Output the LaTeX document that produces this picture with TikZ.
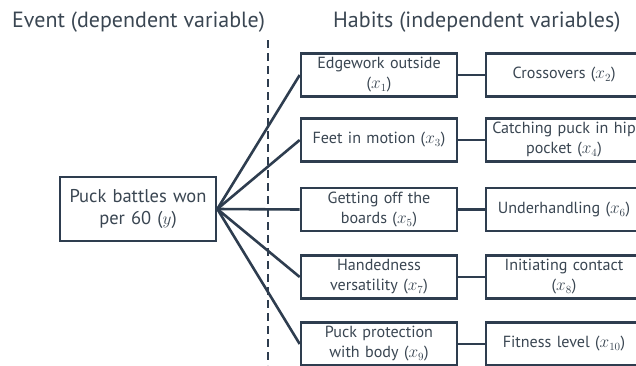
\documentclass[tikz,border=0pt]{standalone}
\usepackage{fontspec}
\setmainfont{PT Sans}
\definecolor{edge}{HTML}{2E3D4F}
\definecolor{txt}{HTML}{3A4652}
\begin{document}
\begin{tikzpicture}[x=1pt,y=-1pt,
  box/.style={draw=edge,line width=2.6pt,fill=white,minimum height=43pt,text width=152pt,align=center,inner sep=1pt,text=txt,font=\fontsize{16.1}{20}\selectfont},
  bigbox/.style={box,font=\fontsize{18.5}{22}\selectfont},
  link/.style={draw=edge,line width=2.6pt},
  title/.style={text=txt,font=\fontsize{22}{24}\selectfont,inner sep=0pt}]
\useasboundingbox (0,0) rectangle (636,365);
\begin{scope}
\clip (0,0) rectangle (636,365);
\node[title,anchor=base west] (t1) at (12,27) {Event (dependent variable)};
\node[title,anchor=base west] (t2) at (333,27) {Habits (independent variables)};
\coordinate (dtop) at (268,40);
\coordinate (dbot) at (268,365);
\draw[edge,line width=2.4pt,dash pattern=on 8pt off 5pt] (dtop) -- (dbot);
\node[bigbox,minimum width=156pt,minimum height=64pt] (y) at (138,209) {Puck battles won\\per 60 ($y$)};
\foreach \i/\yy/\a/\b in {1/75/{Edgework outside\\($x_1$)}/{Crossovers ($x_2$)},
  2/140/{Feet in motion ($x_3$)}/{Catching puck in hip\\pocket ($x_4$)},
  3/209.5/{Getting off the\\boards ($x_5$)}/{Underhandling ($x_6$)},
  4/277/{Handedness\\versatility ($x_7$)}/{Initiating contact\\($x_8$)},
  5/344/{Puck protection\\with body ($x_9$)}/{Fitness level ($x_{10}$)}}{
  \node[box,minimum width=156pt] (m\i) at (379,\yy) {\a};
  \node[box,minimum width=156pt] (r\i) at (564,\yy) {\b};
  \draw[link] (y.east) -- (m\i.west);
  \draw[link] (m\i.east) -- (r\i.west);
}
\end{scope}
\end{tikzpicture}
\end{document}
